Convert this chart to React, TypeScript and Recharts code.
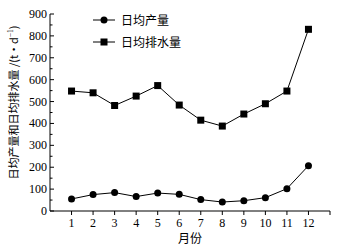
import { Label, Line, LineChart, XAxis, YAxis } from "recharts";

const months = [1, 2, 3, 4, 5, 6, 7, 8, 9, 10, 11, 12];
const production = [55, 75, 84, 66, 82, 76, 52, 41, 47, 61, 102, 207];
const drainage = [548, 540, 482, 525, 573, 484, 415, 388, 443, 490, 548, 830];
const yTicks = [0, 50, 100, 150, 200, 250, 300, 350, 400, 450, 500, 550, 600, 650, 700, 750, 800, 850, 900];
const xTicks = [1, 2, 3, 4, 5, 6, 7, 8, 9, 10, 11, 12, 13];
const legendItems = [
  { label: "日均产量", shape: "circle" },
  { label: "日均排水量", shape: "square" },
];

const data = months.map((m, i) => ({ month: m, production: production[i], drainage: drainage[i] }));

const serif = "'Liberation Serif', 'Times New Roman', serif";
const cjk = "'Noto Sans CJK SC', sans-serif";

function SquareDot(props: any) {
  const { cx, cy } = props;
  if (cx == null || cy == null) return null;
  return <rect x={cx - 3.5} y={cy - 3.5} width={7} height={7} fill="#000" />;
}

function YTick(props: any) {
  const { x, y, payload } = props;
  const axisX = x + 4;
  const major = payload.value % 100 === 0;
  return (
    <g>
      <line x1={axisX} x2={axisX + (major ? 4 : 2.5)} y1={y} y2={y} stroke="#000" strokeWidth={1} />
      {major && (
        <text x={axisX - 3} y={y} dy={4} textAnchor="end" fontFamily={serif} fontSize={12} fill="#000">
          {payload.value}
        </text>
      )}
    </g>
  );
}

function LegendBox() {
  return (
    <svg width={140} height={46} style={{ position: "absolute", left: 92, top: 11 }}>
      {legendItems.map((r, i) => {
        const cy = 9 + i * 22;
        return (
          <g key={r.label}>
            <line x1={1} x2={23} y1={cy} y2={cy} stroke="#000" strokeWidth={1} />
            {r.shape === "circle" ? (
              <circle cx={12} cy={cy} r={3.5} fill="#000" />
            ) : (
              <rect x={8.5} y={cy - 3.5} width={7} height={7} fill="#000" />
            )}
            <text x={29} y={cy} dy={4.5} fontFamily={cjk} fontSize={12} fill="#000">
              {r.label}
            </text>
          </g>
        );
      })}
    </svg>
  );
}

function YLabel(props: any) {
  const { viewBox } = props;
  const cx = 14;
  const cy = viewBox.y + viewBox.height / 2 - 10;
  return (
    <text x={cx} y={cy} transform={`rotate(-90 ${cx} ${cy})`} textAnchor="middle" dy={4} fontFamily={cjk} fontSize={11} fill="#000">
      日均产量和日均排水量 /(t·d
      <tspan fontFamily={serif} fontSize={7.5} dy={-5}>−1</tspan>
      <tspan dy={5}>)</tspan>
    </text>
  );
}

export default function App() {
  return (
    <div style={{ position: "fixed", left: 0, top: 0, width: 339, height: 252, background: "#fff" }}>
      <LineChart width={339} height={252} data={data} margin={{ top: 14, right: 9, bottom: 0, left: 0 }}>
        <XAxis
          dataKey="month"
          type="number"
          domain={[0, 13]}
          ticks={xTicks}
          tickFormatter={(v) => (v === 13 ? "" : String(v))}
          tickSize={4}
          tickMargin={3}
          height={41}
          stroke="#000"
          tick={{ fill: "#000", fontFamily: serif, fontSize: 12 }}
        >
          <Label value="月份" position="insideBottom" offset={9} style={{ fontFamily: cjk, fontSize: 12, fill: "#000" }} />
        </XAxis>
        <YAxis
          type="number"
          domain={[0, 900]}
          ticks={yTicks}
          interval={0}
          width={50}
          tickSize={0}
          tickMargin={4}
          tickLine={false}
          stroke="#000"
          tick={<YTick />}
        >
          <Label content={<YLabel />} />
        </YAxis>
        <Line
          type="linear"
          dataKey="production"
          stroke="#000"
          strokeWidth={1}
          dot={{ r: 3.5, fill: "#000", stroke: "#000", strokeWidth: 0 }}
          isAnimationActive={false}
        />
        <Line type="linear" dataKey="drainage" stroke="#000" strokeWidth={1} dot={<SquareDot />} isAnimationActive={false} />
      </LineChart>
      <LegendBox />
    </div>
  );
}
